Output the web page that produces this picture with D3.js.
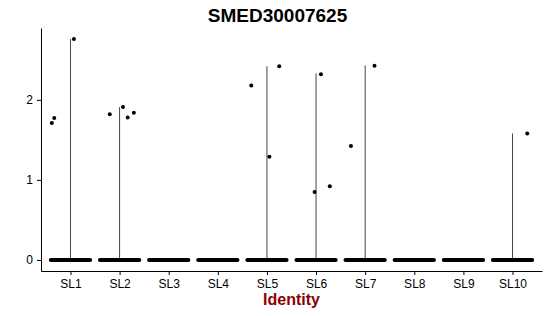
<!DOCTYPE html>
<html>
<head>
<meta charset="utf-8">
<script src="https://cdn.jsdelivr.net/npm/d3@7"></script>
<style>
  body { margin: 0; background: #fff; }
  text { font-family: "Liberation Sans", Arial, sans-serif; }
</style>
</head>
<body>
<div id="chart"></div>
<script>
var w = 550,
    h = 316,
    panelLeft = 41, panelRight = 542, panelTop = 28, panelBottom = 271;

// identities and the max expression per identity (violin extent)
var identities = ['SL1', 'SL2', 'SL3', 'SL4', 'SL5', 'SL6', 'SL7', 'SL8', 'SL9', 'SL10'];
var maxExpr = [2.76, 1.91, 0, 0, 2.42, 2.33, 2.43, 0, 0, 1.58];

// non-zero cells: identity, expression value, horizontal jitter (in category units)
var cellIdent  = ['SL1', 'SL1', 'SL1', 'SL2', 'SL2', 'SL2', 'SL2', 'SL5', 'SL5', 'SL5', 'SL6', 'SL6', 'SL6', 'SL7', 'SL7', 'SL10'];
var cellExpr   = [1.71, 1.775, 2.76, 1.82, 1.91, 1.78, 1.84, 2.18, 2.42, 1.29, 2.32, 0.85, 0.92, 1.425, 2.425, 1.58];
var cellJitter = [-0.38, -0.33, 0.07, -0.2, 0.07, 0.165, 0.29, -0.32, 0.25, 0.05, 0.1, -0.03, 0.28, -0.29, 0.19, 0.3];

// zero-valued cells get jittered across this width on each side
var jitterWidth = 0.4;

var yTicks = [0, 1, 2];

var svg = d3.select('#chart').append('svg')
    .attr('width', w)
    .attr('height', h);

var x = d3.scalePoint()
    .domain(identities)
    .range([panelLeft, panelRight])
    .padding(0.6);

var yMax = d3.max(maxExpr);
var y = d3.scaleLinear()
    .domain([-0.05 * yMax, 1.05 * yMax])
    .range([panelBottom, panelTop]);

// violins (collapsed to a line since almost every cell is zero)
svg.append('g').selectAll('line')
    .data(identities.filter(function(d, i){ return maxExpr[i] > 0; }))
  .enter().append('line')
    .attr('x1', function(d){ return x(d); })
    .attr('x2', function(d){ return x(d); })
    .attr('y1', y(0))
    .attr('y2', function(d){ return y(maxExpr[identities.indexOf(d)]); })
    .attr('stroke', '#444')
    .attr('stroke-width', 1);

// band of overlapping zero points
svg.append('g').selectAll('line')
    .data(identities)
  .enter().append('line')
    .attr('x1', function(d){ return x(d) - jitterWidth * x.step(); })
    .attr('x2', function(d){ return x(d) + jitterWidth * x.step(); })
    .attr('y1', y(0))
    .attr('y2', y(0))
    .attr('stroke', '#000')
    .attr('stroke-width', 4)
    .attr('stroke-linecap', 'round');

// non-zero points
svg.append('g').selectAll('circle')
    .data(cellExpr)
  .enter().append('circle')
    .attr('cx', function(d, i){ return x(cellIdent[i]) + cellJitter[i] * x.step(); })
    .attr('cy', function(d){ return y(d); })
    .attr('r', 2)
    .attr('fill', '#000');

// axes
svg.append('g')
    .attr('transform', 'translate(0,' + panelBottom + ')')
    .call(d3.axisBottom(x).tickSize(4).tickSizeOuter(0).tickPadding(4));

svg.append('g')
    .attr('transform', 'translate(' + panelLeft + ',0)')
    .call(d3.axisLeft(y).tickValues(yTicks).tickFormat(d3.format('d')).tickSize(4).tickSizeOuter(0).tickPadding(4));

svg.selectAll('.domain, .tick line').attr('stroke', '#000').attr('stroke-width', 1);
svg.selectAll('.tick text')
    .style('font-family', '"Liberation Sans", Arial, sans-serif')
    .style('font-size', '12px')
    .attr('fill', '#000');

// titles
svg.append('text')
    .attr('x', 277.5)
    .attr('y', 22)
    .attr('text-anchor', 'middle')
    .style('font-size', '19px')
    .style('font-weight', 'bold')
    .text('SMED30007625');

svg.append('text')
    .attr('x', (panelLeft + panelRight) / 2)
    .attr('y', 305)
    .attr('text-anchor', 'middle')
    .style('font-size', '16px')
    .style('font-weight', 'bold')
    .attr('fill', '#8B0000')
    .text('Identity');
</script>
</body>
</html>
